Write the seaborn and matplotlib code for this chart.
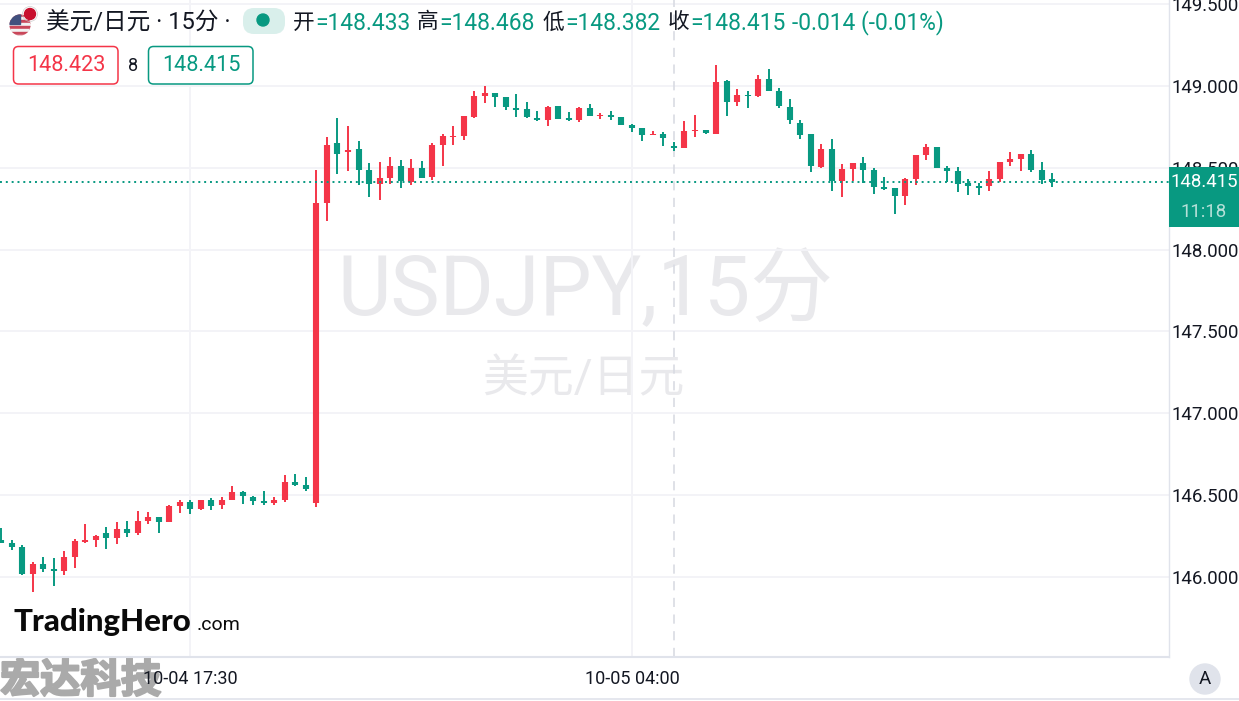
import numpy as np
import pandas as pd
import seaborn as sns
import matplotlib.pyplot as plt
import matplotlib.patheffects as pe
from matplotlib.patches import Circle, FancyBboxPatch, Rectangle

# candle values (15 min bars, red = up, green = down)
opens = [146.226, 146.208, 146.183, 146.018, 146.079, 146.049, 146.037, 146.122, 146.214, 146.226,
         146.269, 146.238, 146.293, 146.269, 146.342, 146.367, 146.336, 146.434, 146.458, 146.416,
         146.471, 146.440, 146.471, 146.519, 146.489, 146.464, 146.452, 146.471, 146.581, 146.562,
         146.452, 148.284, 148.650, 148.596, 148.614, 148.486, 148.400, 148.437, 148.510, 148.413,
         148.498, 148.443, 148.638, 148.687, 148.693, 148.809, 148.937, 148.955, 148.931, 148.864,
         148.858, 148.803, 148.791, 148.876, 148.803, 148.791, 148.864, 148.815, 148.821, 148.809,
         148.760, 148.742, 148.699, 148.705, 148.632, 148.620, 148.724, 148.730, 148.705, 149.029,
         148.900, 148.943, 148.937, 149.041, 148.968, 148.870, 148.772, 148.705, 148.504, 148.614,
         148.419, 148.494, 148.530, 148.488, 148.384, 148.378, 148.329, 148.433, 148.579, 148.628,
         148.500, 148.482, 148.409, 148.390, 148.390, 148.433, 148.537, 148.555, 148.585, 148.488,
         148.433]
closes = [146.208, 146.183, 146.018, 146.079, 146.049, 146.037, 146.122, 146.220, 146.226, 146.251,
          146.238, 146.293, 146.269, 146.342, 146.367, 146.336, 146.434, 146.458, 146.416, 146.471,
          146.434, 146.471, 146.519, 146.495, 146.464, 146.452, 146.471, 146.581, 146.562, 146.538,
          148.284, 148.638, 148.583, 148.608, 148.486, 148.400, 148.437, 148.510, 148.419, 148.498,
          148.437, 148.638, 148.693, 148.693, 148.815, 148.937, 148.955, 148.931, 148.870, 148.852,
          148.809, 148.791, 148.870, 148.797, 148.791, 148.864, 148.815, 148.821, 148.809, 148.760,
          148.742, 148.699, 148.705, 148.681, 148.620, 148.724, 148.730, 148.711, 149.022, 148.900,
          148.943, 148.937, 149.041, 148.968, 148.876, 148.791, 148.699, 148.510, 148.614, 148.419,
          148.492, 148.530, 148.488, 148.384, 148.372, 148.329, 148.433, 148.579, 148.628, 148.500,
          148.482, 148.402, 148.390, 148.378, 148.433, 148.537, 148.555, 148.585, 148.488, 148.427,
          148.415]
highs = [146.299, 146.226, 146.196, 146.092, 146.122, 146.116, 146.159, 146.232, 146.324, 146.257,
         146.306, 146.336, 146.342, 146.403, 146.397, 146.367, 146.440, 146.471, 146.471, 146.471,
         146.483, 146.489, 146.556, 146.526, 146.495, 146.526, 146.489, 146.623, 146.629, 146.611,
         148.486, 148.687, 148.803, 148.754, 148.663, 148.528, 148.535, 148.565, 148.547, 148.553,
         148.541, 148.650, 148.705, 148.754, 148.815, 148.968, 149.000, 148.955, 148.931, 148.949,
         148.900, 148.846, 148.876, 148.876, 148.840, 148.870, 148.888, 148.833, 148.846, 148.809,
         148.766, 148.742, 148.724, 148.718, 148.657, 148.785, 148.821, 148.730, 149.126, 149.035,
         148.980, 148.968, 149.065, 149.102, 148.986, 148.919, 148.791, 148.705, 148.644, 148.675,
         148.522, 148.530, 148.567, 148.500, 148.445, 148.378, 148.439, 148.579, 148.646, 148.628,
         148.512, 148.506, 148.433, 148.409, 148.482, 148.537, 148.598, 148.585, 148.610, 148.537,
         148.468]
lows = [146.208, 146.165, 146.012, 145.908, 146.031, 145.945, 146.012, 146.055, 146.208, 146.183,
        146.171, 146.202, 146.244, 146.257, 146.324, 146.269, 146.336, 146.391, 146.385, 146.409,
        146.409, 146.416, 146.471, 146.446, 146.440, 146.440, 146.440, 146.458, 146.556, 146.526,
        146.428, 148.175, 148.461, 148.480, 148.394, 148.321, 148.303, 148.400, 148.376, 148.394,
        148.437, 148.425, 148.510, 148.638, 148.669, 148.803, 148.894, 148.870, 148.852, 148.809,
        148.803, 148.785, 148.754, 148.797, 148.785, 148.779, 148.815, 148.797, 148.791, 148.760,
        148.718, 148.663, 148.699, 148.632, 148.602, 148.620, 148.687, 148.705, 148.705, 148.815,
        148.876, 148.864, 148.931, 148.968, 148.864, 148.766, 148.675, 148.474, 148.498, 148.358,
        148.321, 148.421, 148.406, 148.341, 148.366, 148.219, 148.274, 148.396, 148.549, 148.500,
        148.415, 148.354, 148.335, 148.335, 148.360, 148.415, 148.512, 148.482, 148.476, 148.402,
        148.382]

price_ticks = [146.0, 146.5, 147.0, 147.5, 148.0, 148.5, 149.0, 149.5]
price_labels = ['146.000', '146.500', '147.000', '147.500', '148.000', '148.500', '149.000', '149.500']
time_ticks = [18, 60]
time_labels = ['10-04 17:30', '10-05 04:00']
last_price = 148.415
cross_bar = 64

RED = '#f43548'
GREEN = '#089981'
GRID = '#f3f3f7'
BORDER = '#e0e3eb'
W, H = 1239, 701
BAR_PX = 10.515

sns.set_theme(style='white')
plt.rcParams['font.family'] = ['Roboto', 'Noto Sans CJK SC', 'DejaVu Sans']

candles = pd.DataFrame({'bar': np.arange(len(opens)), 'open': opens, 'high': highs, 'low': lows, 'close': closes})
candles['dir'] = np.where(candles['close'] >= candles['open'], 'up', 'down')
wicks = candles.melt(id_vars=['bar', 'dir'], value_vars=['high', 'low'], value_name='price')
bodies = candles.melt(id_vars=['bar', 'dir'], value_vars=['open', 'close'], value_name='price')
palette = {'up': RED, 'down': GREEN}

fig = plt.figure(figsize=(W / 100, H / 100), dpi=100, facecolor='white')

# watermark sits under the candles
bg = fig.add_axes([0, 0, 1, 1], facecolor='none', zorder=-1)
bg.set_xlim(0, W)
bg.set_ylim(H, 0)
bg.axis('off')
bg.text(585, 292, 'USDJPY,15分', fontsize=59.5, color='#e9e9ec', ha='center', va='center')
bg.text(583, 379, '美元/日元', fontsize=33, color='#e9e9ec', ha='center', va='center')
bg.text(0, 681, '宏达科技', fontsize=29, fontweight='bold', color='#aaaaaa', va='center',
        path_effects=[pe.withStroke(linewidth=1.6, foreground='#aaaaaa')])

ax = fig.add_axes([0, 44 / H, 1169 / W, 657 / H], facecolor='none')

sns.lineplot(data=wicks, x='bar', y='price', hue='dir', units='bar', estimator=None, palette=palette,
             linewidth=1.4, solid_capstyle='butt', legend=False, ax=ax, zorder=3)
sns.lineplot(data=bodies, x='bar', y='price', hue='dir', units='bar', estimator=None, palette=palette,
             linewidth=4.4, solid_capstyle='butt', legend=False, ax=ax, zorder=4)

ax.set_xlim(-1 / BAR_PX, 1168 / BAR_PX)
ax.set_ylim(146 - 80 / 163.67, 149 + 86 / 163.67)
ax.set_xlabel('')
ax.set_ylabel('')
ax.yaxis.tick_right()
ax.set_yticks(price_ticks, price_labels)
ax.set_xticks(time_ticks, time_labels)
ax.tick_params(axis='y', length=0, pad=2, labelsize=13.4, labelcolor='#131722')
ax.tick_params(axis='x', length=0, pad=9.5, labelsize=13, labelcolor='#131722')
ax.grid(True, color=GRID, linewidth=1.4)
ax.set_axisbelow(True)
for side in ['top', 'left']:
    ax.spines[side].set_visible(False)
for side in ['right', 'bottom']:
    ax.spines[side].set_color(BORDER)
ax.spines['right'].set_linewidth(1)
ax.spines['bottom'].set_linewidth(1.5)

# last price + crosshair
ax.axhline(last_price, color=GREEN, linewidth=1.4, linestyle=(0, (1, 2)), zorder=5)
ax.axvline(cross_bar, color='#d9dbe3', linewidth=1.2, linestyle=(0, (5.5, 4.5)), zorder=2)

ov = fig.add_axes([0, 0, 1, 1], facecolor='none', zorder=10)
ov.set_xlim(0, W)
ov.set_ylim(H, 0)
ov.axis('off')

# header
flag = Circle((20, 25), 10.5, transform=ov.transData)
for k, y0 in enumerate(np.arange(14, 36, 3)):
    s = Rectangle((9, y0), 22, 3, color='#c9475a' if k % 2 == 0 else '#f2f2f2', zorder=2)
    ov.add_patch(s)
    s.set_clip_path(flag)
canton = Rectangle((9, 14), 11, 10, color='#41507e', zorder=3)
ov.add_patch(canton)
canton.set_clip_path(flag)
ov.add_patch(Circle((30, 14), 7.5, color='#c4c4c4', fill=False, linewidth=0.4, zorder=4))
ov.add_patch(Circle((30, 14), 5.5, color='#c8102e', zorder=4))

ov.text(46, 23, '美元/日元 · 15分 ·', fontsize=17, color='#131722', va='center')
ov.add_patch(FancyBboxPatch((243, 8), 42, 26, boxstyle='round,pad=0,rounding_size=11',
                            facecolor='#d9efeb', edgecolor='none'))
ov.add_patch(Circle((263, 20), 6, color=GREEN))
for x, lab, val in [(293, '开', '=148.433'), (417, '高', '=148.468'), (543, '低', '=148.382'), (668, '收', '=148.415')]:
    ov.text(x, 23, lab, fontsize=15.6, color='#131722', va='center')
    ov.text(x + 22, 23, val, fontsize=16.4, color=GREEN, va='center')
ov.text(792, 23, '-0.014 (-0.01%)', fontsize=16.4, color=GREEN, va='center')

# bid / ask boxes
for x0, col, val in [(13, RED, '148.423'), (148, GREEN, '148.415')]:
    ov.add_patch(FancyBboxPatch((x0 + .5, 46.5), 104.5, 37.5, boxstyle='round,pad=0,rounding_size=5',
                                facecolor='white', edgecolor=col, linewidth=1.1))
    ov.text(x0 + 53, 65.5, val, fontsize=15.6, color=col, ha='center', va='center')
ov.text(133, 66, '8', fontsize=13, color='#131722', ha='center', va='center')

# price badge
ov.add_patch(Rectangle((1169, 167), 70, 60, facecolor=GREEN, edgecolor='none'))
ov.text(1204, 182, '148.415', fontsize=13.4, color='white', ha='center', va='center')
ov.text(1204, 212, '11:18', fontsize=13.4, color='#b5e0d8', ha='center', va='center')

# logos + bottom bar
ov.text(13, 622, 'TradingHero', fontsize=22.5, fontweight=900, family='Lato', color='#0a0a0a', va='center')
ov.text(197, 625, '.com', fontsize=14, color='#0a0a0a', va='center')
ov.plot([0, W], [699, 699], color=BORDER, linewidth=1.2)
ov.add_patch(Circle((1205, 679), 15, color=BORDER))
ov.text(1205, 679, 'A', fontsize=13.4, color='#131722', ha='center', va='center')

fig.savefig('out.png', dpi=100)
